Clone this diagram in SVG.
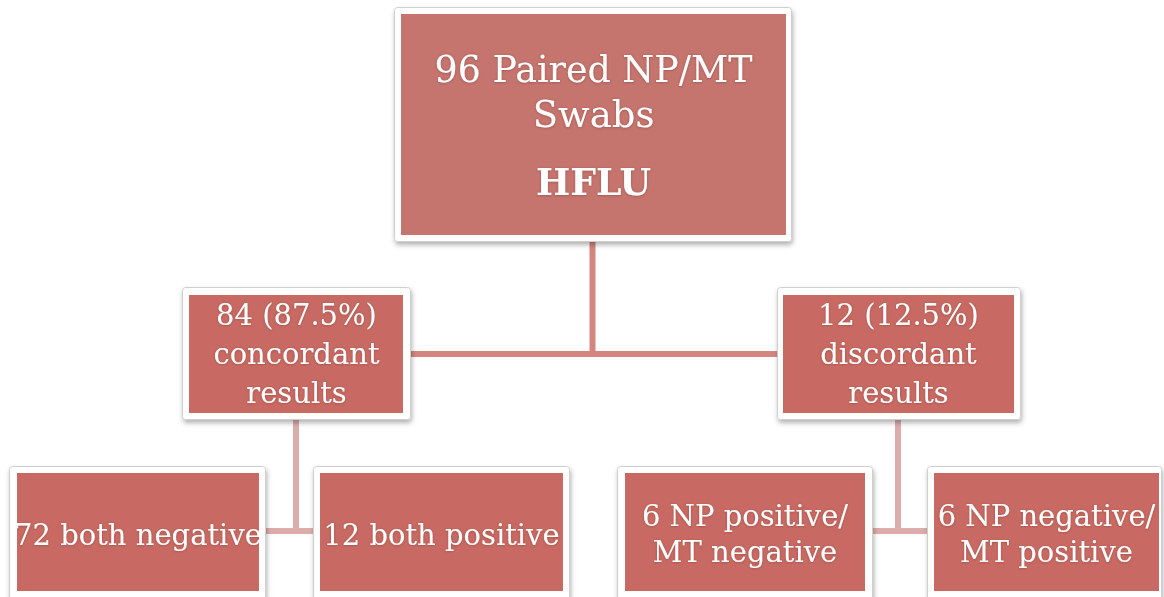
<svg xmlns="http://www.w3.org/2000/svg" width="1164" height="597" viewBox="0 0 1164 597">
<style>
.frame{fill:#ffffff;stroke:#cfcfcf;stroke-width:1;filter:url(#shadow)}
.box{fill:#c86a63}
.boxTop{fill:#c5746e}
.t{font-family:"DejaVu Serif","Liberation Serif",serif;fill:#ffffff;text-anchor:middle;filter:url(#glow)}
.t29{font-size:29px}
.t38{font-size:37px}
.b{font-weight:bold}
.conn1{stroke:#d4857f;stroke-width:6;fill:none}
.conn2{stroke:#dcacaa;stroke-width:6;fill:none}
</style>
<defs>
<filter id="shadow" x="-10%" y="-10%" width="125%" height="130%">
<feDropShadow dx="1" dy="3" stdDeviation="2.5" flood-color="#000000" flood-opacity="0.3"/>
</filter>
<filter id="glow" x="-5%" y="-20%" width="110%" height="140%">
<feDropShadow dx="0" dy="0.5" stdDeviation="1" flood-color="#6b2a26" flood-opacity="0.45"/>
</filter>
<clipPath id="clipA"><rect x="17" y="473" width="242" height="118"/></clipPath>
<clipPath id="clipB"><rect x="320" y="473" width="243" height="118"/></clipPath>
</defs>
<rect width="1164" height="597" fill="#ffffff"/>
<g id="connectors">
<path class="conn1" d="M592.5,242 V354 M411,354 H777"/>
<path class="conn2" d="M296,420 V531 M266,531 H313"/>
<path class="conn2" d="M898,420 V531 M873,531 H927"/>
</g>
<g id="node-root">
<rect class="frame" x="394.5" y="7.5" width="397" height="234" rx="3"/>
<rect class="boxTop" x="401" y="14" width="385" height="221"/>
<text class="t t38" x="593.5" y="82" textLength="318" lengthAdjust="spacingAndGlyphs">96 Paired NP/MT</text>
<text class="t t38" x="593.5" y="127">Swabs</text>
<text class="t t38 b" x="593.5" y="195" textLength="115" lengthAdjust="spacingAndGlyphs">HFLU</text>
</g>
<g id="node-concordant">
<rect class="frame" x="182.5" y="287.5" width="228" height="132" rx="3"/>
<rect class="box" x="189" y="295" width="214" height="118"/>
<text class="t t29" x="296.5" y="325">84 (87.5%)</text>
<text class="t t29" x="296.5" y="364">concordant</text>
<text class="t t29" x="296.5" y="403">results</text>
</g>
<g id="node-discordant">
<rect class="frame" x="777.5" y="287.5" width="243" height="132" rx="3"/>
<rect class="box" x="783" y="295" width="231" height="118"/>
<text class="t t29" x="898.5" y="325">12 (12.5%)</text>
<text class="t t29" x="898.5" y="364">discordant</text>
<text class="t t29" x="898.5" y="403">results</text>
</g>
<g id="node-both-negative">
<rect class="frame" x="9.5" y="466.5" width="256" height="140" rx="3"/>
<rect class="box" x="17" y="473" width="242" height="118"/>
<text class="t t29" x="138" y="545" clip-path="url(#clipA)">72 both negative</text>
</g>
<g id="node-both-positive">
<rect class="frame" x="313.5" y="466.5" width="256" height="140" rx="3"/>
<rect class="box" x="320" y="473" width="243" height="118"/>
<text class="t t29" x="441.5" y="545" clip-path="url(#clipB)">12 both positive</text>
</g>
<g id="node-np-pos">
<rect class="frame" x="617.5" y="466.5" width="255" height="140" rx="3"/>
<rect class="box" x="625" y="473" width="240" height="118"/>
<text class="t t29" x="745" y="526">6 NP positive/</text>
<text class="t t29" x="745" y="562">MT negative</text>
</g>
<g id="node-np-neg">
<rect class="frame" x="927.5" y="466.5" width="234" height="140" rx="3"/>
<rect class="box" x="934" y="473" width="225" height="118"/>
<text class="t t29" x="1046.5" y="526">6 NP negative/</text>
<text class="t t29" x="1046.5" y="562">MT positive</text>
</g>
</svg>
